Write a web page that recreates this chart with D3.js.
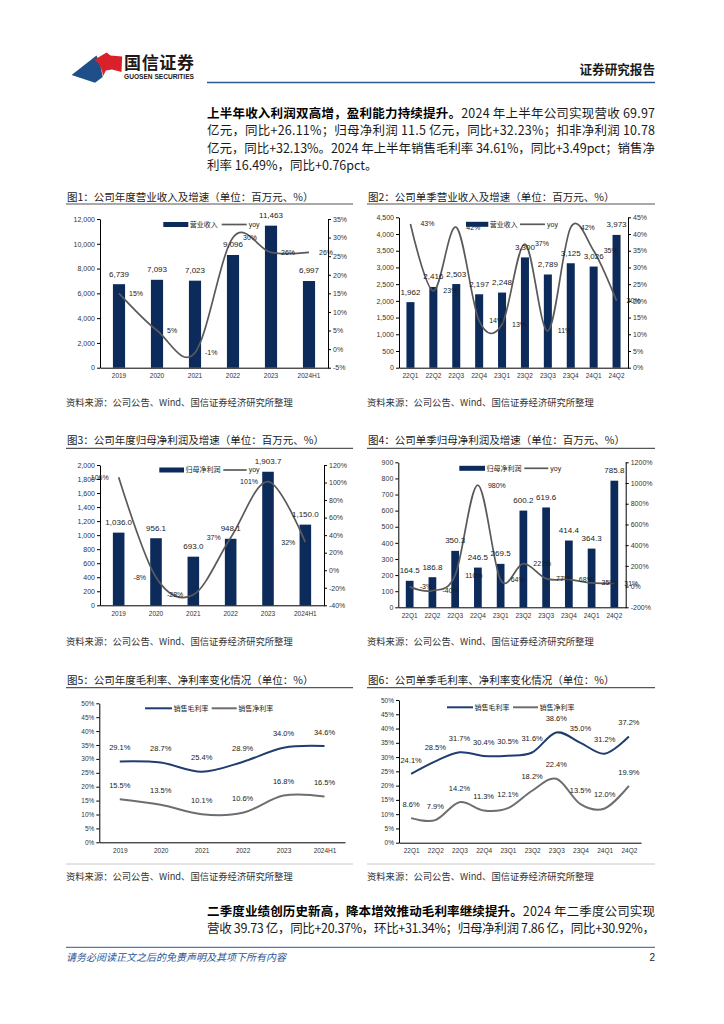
<!DOCTYPE html>
<html>
<head>
<meta charset="utf-8">
<script src="https://cdn.jsdelivr.net/npm/d3@7"></script>
<style>
  html, body { margin: 0; padding: 0; background: #fff; }
  svg { display: block; }
</style>
</head>
<body>
<svg id="page" width="724" height="1024"></svg>
<script>
// ── Data ──────────────────────────────────────────────────
const years    = ['2019', '2020', '2021', '2022', '2023', '2024H1'];
const quarters = ['22Q1', '22Q2', '22Q3', '22Q4', '23Q1', '23Q2', '23Q3', '23Q4', '24Q1', '24Q2'];

const yearRevenue    = [6739, 7093, 7023, 9096, 11463, 6997];
const yearRevenueYoy = [15, 5, -1, 30, 26, 26];

const qRevenue    = [1962, 2416, 2503, 2197, 2248, 3300, 2789, 3125, 3026, 3973];
const qRevenueYoy = [43, 23, 42, 14, 13, 37, 11, 42, 35, 20];

const yearProfit    = [1036.0, 956.1, 693.0, 948.1, 1903.7, 1150.0];
const yearProfitYoy = [106, -8, -28, 37, 101, 32];

const qProfit    = [164.5, 186.8, 350.3, 246.5, 269.5, 600.2, 619.6, 414.4, 364.3, 785.8];
const qProfitYoy = [-3, -40, 110, 980, 64, 221, 77, 68, 35, 31];

const yearGross = [29.1, 28.7, 25.4, 28.9, 34.0, 34.6];
const yearNet   = [15.5, 13.5, 10.1, 10.6, 16.8, 16.5];
const qGross    = [24.1, 28.5, 31.7, 30.4, 30.5, 31.6, 38.6, 35.0, 31.2, 37.2];
const qNet      = [8.6, 7.9, 14.2, 11.3, 12.1, 18.2, 22.4, 13.5, 12.0, 19.9];

const SOURCE = '资料来源：公司公告、Wind、国信证券经济研究所整理';

// ── Style ─────────────────────────────────────────────────
const COLORS = {
  bar:   '#0c2b5b',
  line:  '#5a5a5a',
  gross: '#1f3d6e',
  net:   '#6e6e6e',
  text:  '#1a1a1a',
  blue:  '#2d5a8e'
};
const FONT_NUM = '"Liberation Sans","Noto Sans CJK SC",sans-serif';
const FONT_CJK = '"Noto Sans CJK SC",sans-serif';

const svg = d3.select('#page');
svg.append('rect').attr('width', 724).attr('height', 1024).attr('fill', '#fff');

function styleAxis(sel, fs) {
  sel.select('.domain').attr('stroke', '#000').attr('stroke-width', 1);
  sel.selectAll('.tick line').attr('stroke', '#000');
  sel.selectAll('.tick text')
     .attr('font-size', fs).attr('fill', '#333').attr('font-family', FONT_NUM);
}

// ── Header ────────────────────────────────────────────────
const head = svg.append('g');
head.append('path')
    .attr('d', 'M71.6,75 L96.5,55.5 Q100.5,63 102.7,77 L95,82.7 Z')
    .attr('fill', '#1e4f88');
head.append('path')
    .attr('d', 'M94,60 L106.6,52.5 L110.5,55.5 L122.2,56.5 L121.5,72 L112,69.5 L106,70.5 L103,76 Q101.5,64 94,60 Z')
    .attr('fill', '#d8212a');
head.append('text').attr('x', 124).attr('y', 69)
    .attr('font-family', FONT_CJK).attr('font-size', 17).attr('font-weight', 700)
    .attr('fill', '#231815').attr('textLength', 70).text('国信证券');
head.append('text').attr('x', 124).attr('y', 79.3)
    .attr('font-family', FONT_NUM).attr('font-size', 6.3).attr('font-weight', 700)
    .attr('fill', '#231815').attr('textLength', 70).attr('lengthAdjust', 'spacingAndGlyphs')
    .text('GUOSEN SECURITIES');
head.append('text').attr('x', 655).attr('y', 74).attr('text-anchor', 'end')
    .attr('font-family', FONT_CJK).attr('font-size', 12.6).attr('font-weight', 700)
    .attr('fill', '#1a1a1a').text('证券研究报告');
head.append('line').attr('x1', 207).attr('x2', 655).attr('y1', 82.5).attr('y2', 82.5)
    .attr('stroke', COLORS.blue).attr('stroke-width', 1.6);

// ── Paragraphs ────────────────────────────────────────────
function para(lines, x, y0, lh, width) {
  lines.forEach((ln, i) => {
    const t = svg.append('text').attr('x', x).attr('y', y0 + i * lh)
        .attr('font-family', FONT_CJK).attr('font-size', 12.5).attr('fill', '#1a1a1a');
    if (ln.justify) t.attr('textLength', width).attr('lengthAdjust', 'spacing');
    ln.parts.forEach(p => t.append('tspan')
        .attr('font-weight', p.b ? 700 : 400).attr('fill', p.b ? '#000' : '#1a1a1a').text(p.t));
  });
}

para([
  { justify: true, parts: [{ b: true, t: '上半年收入利润双高增，盈利能力持续提升。' }, { t: '2024 年上半年公司实现营收 69.97' }] },
  { justify: true, parts: [{ t: '亿元，同比+26.11%；归母净利润 11.5 亿元，同比+32.23%；扣非净利润 10.78' }] },
  { justify: true, parts: [{ t: '亿元，同比+32.13%。2024 年上半年销售毛利率 34.61%，同比+3.49pct；销售净' }] },
  { justify: false, parts: [{ t: '利率 16.49%，同比+0.76pct。' }] }
], 207, 117.5, 17.5, 448);

para([
  { justify: true, parts: [{ b: true, t: '二季度业绩创历史新高，降本增效推动毛利率继续提升。' }, { t: '2024 年二季度公司实现' }] },
  { justify: true, parts: [{ t: '营收 39.73 亿，同比+20.37%，环比+31.34%；归母净利润 7.86 亿，同比+30.92%，' }] }
], 207, 916, 16.8, 448);

// ── Titles / sources ──────────────────────────────────────
function panelTitle(text, x0, x1, y, lineY) {
  svg.append('text').attr('x', x0 + 1).attr('y', y)
     .attr('font-family', FONT_CJK).attr('font-size', 10.5).attr('fill', '#1a1a1a').text(text);
  svg.append('line').attr('x1', x0).attr('x2', x1).attr('y1', lineY).attr('y2', lineY)
     .attr('stroke', '#555').attr('stroke-width', 1.2);
}
function source(x, y) {
  svg.append('text').attr('x', x).attr('y', y)
     .attr('font-family', FONT_CJK).attr('font-size', 9.3).attr('fill', '#333').text(SOURCE);
}

panelTitle('图1：公司年度营业收入及增速（单位：百万元、%）', 66, 353, 200.5, 204);
panelTitle('图2：公司单季营业收入及增速（单位：百万元、%）', 367, 655, 200.5, 204);
panelTitle('图3：公司年度归母净利润及增速（单位：百万元、%）', 66, 353, 444, 448.3);
panelTitle('图4：公司单季归母净利润及增速（单位：百万元、%）', 367, 655, 444, 448.3);
panelTitle('图5：公司年度毛利率、净利率变化情况（单位：%）', 66, 353, 684, 687.7);
panelTitle('图6：公司单季毛利率、净利率变化情况（单位：%）', 367, 655, 684, 687.7);

source(66, 405.5);  source(367, 405.5);
source(66, 644.5);  source(367, 644.5);
source(66, 880);    source(367, 880);

[[66, 353], [367, 655]].forEach(([a, b]) =>
  svg.append('line').attr('x1', a).attr('x2', b).attr('y1', 864).attr('y2', 864)
     .attr('stroke', '#c8c8c8').attr('stroke-width', 1));

// ── Bar + yoy line chart ──────────────────────────────────
function combo(o) {
  const g = svg.append('g');
  const x  = d3.scaleBand().domain(o.cats).range([o.l, o.r]).paddingInner(o.pad).paddingOuter(o.pad / 2);
  const cx = c => x(c) + x.bandwidth() / 2;
  const yL = d3.scaleLinear().domain([0, o.lMax]).range([o.b, o.t]);
  const yR = d3.scaleLinear().domain(o.rDom).range([o.b, o.t]);

  g.selectAll('.bar').data(o.bars).join('rect').attr('class', 'bar')
   .attr('x', (d, i) => x(o.cats[i])).attr('width', x.bandwidth())
   .attr('y', d => yL(d)).attr('height', d => o.b - yL(d))
   .attr('fill', COLORS.bar);

  g.append('g').attr('transform', `translate(${o.l},0)`)
   .call(d3.axisLeft(yL).tickValues(d3.range(0, o.lMax + 0.1, o.lStep))
          .tickSize(3).tickSizeOuter(0).tickPadding(2).tickFormat(d3.format(',')))
   .call(styleAxis, 7);
  g.append('g').attr('transform', `translate(${o.r},0)`)
   .call(d3.axisRight(yR).tickValues(d3.range(o.rDom[0], o.rDom[1] + 0.1, o.rStep))
          .tickSize(3).tickSizeOuter(0).tickPadding(2).tickFormat(d => d + '%'))
   .call(styleAxis, 7);
  g.append('g').attr('transform', `translate(0,${o.b})`)
   .call(d3.axisBottom(x).tickSize(0).tickSizeOuter(0).tickPadding(6))
   .call(styleAxis, 6.5);

  const line = d3.line().x((d, i) => cx(o.cats[i])).y(d => yR(d)).curve(d3.curveCardinal);
  g.append('path').datum(o.yoy).attr('d', line)
   .attr('fill', 'none').attr('stroke', COLORS.line).attr('stroke-width', 1.7);

  g.selectAll('.blab').data(o.bars).join('text').attr('class', 'blab')
   .attr('x', (d, i) => cx(o.cats[i])).attr('y', d => yL(d) - 7.5)
   .attr('text-anchor', 'middle').attr('font-family', FONT_NUM)
   .attr('font-size', 8).attr('fill', COLORS.text).text(o.barFmt);

  g.selectAll('.ylab').data(o.yoy).join('text').attr('class', 'ylab')
   .attr('x', (d, i) => cx(o.cats[i]) + o.side * 10).attr('y', d => yR(d)).attr('dy', '0.35em')
   .attr('text-anchor', o.side > 0 ? 'start' : 'end').attr('font-family', FONT_NUM)
   .attr('font-size', 7).attr('fill', COLORS.text).text(d => d + '%');

  // Legend
  const lg = g.append('g').attr('font-size', 7).attr('fill', COLORS.text);
  lg.append('rect').attr('x', o.leg[0]).attr('y', o.legY - 2.5)
    .attr('width', o.leg[1] - o.leg[0]).attr('height', 5).attr('fill', COLORS.bar);
  lg.append('text').attr('x', o.leg[1] + 1.5).attr('y', o.legY).attr('dy', '0.35em')
    .attr('font-family', FONT_CJK).text(o.barName);
  lg.append('line').attr('x1', o.leg[2]).attr('x2', o.leg[3]).attr('y1', o.legY).attr('y2', o.legY)
    .attr('stroke', COLORS.line).attr('stroke-width', 1.7);
  lg.append('text').attr('x', o.leg[3] + 2).attr('y', o.legY).attr('dy', '0.35em')
    .attr('font-family', FONT_NUM).text('yoy');
}

combo({ cats: years, bars: yearRevenue, yoy: yearRevenueYoy, barName: '营业收入',
        l: 100, r: 328, t: 219, b: 367.7, pad: 0.68,
        lMax: 12000, lStep: 2000, rDom: [-5, 35], rStep: 5, side: 1,
        barFmt: d3.format(','), legY: 224.5, leg: [163.3, 188.3, 221.7, 246.7] });

combo({ cats: quarters, bars: qRevenue, yoy: qRevenueYoy, barName: '营业收入',
        l: 399, r: 628, t: 217.3, b: 367.7, pad: 0.65,
        lMax: 4500, lStep: 500, rDom: [0, 45], rStep: 5, side: 1,
        barFmt: d3.format(','), legY: 224.3, leg: [466, 488.3, 520, 545] });

combo({ cats: years, bars: yearProfit, yoy: yearProfitYoy, barName: '归母净利润',
        l: 100, r: 324, t: 465, b: 605.3, pad: 0.69,
        lMax: 2000, lStep: 200, rDom: [-40, 120], rStep: 20, side: -1,
        barFmt: d3.format(',.1f'), legY: 470, leg: [159.3, 184, 223.3, 246.7] });

combo({ cats: quarters, bars: qProfit, yoy: qProfitYoy, barName: '归母净利润',
        l: 398.3, r: 625.7, t: 462.3, b: 607.3, pad: 0.66,
        lMax: 900, lStep: 100, rDom: [-200, 1200], rStep: 200, side: 1,
        barFmt: d3.format(',.1f'), legY: 468.3, leg: [459.3, 485, 524.3, 548.3] });

// ── Margin line chart ─────────────────────────────────────
function margins(o) {
  const g = svg.append('g');
  const x = d3.scalePoint().domain(o.cats).range([o.l, o.r]).padding(0.5);
  const y = d3.scaleLinear().domain([0, 50]).range([o.b, o.t]);

  g.append('g').attr('transform', `translate(${o.l},0)`)
   .call(d3.axisLeft(y).tickValues(d3.range(0, 50.1, 5))
          .tickSize(3).tickSizeOuter(0).tickPadding(2).tickFormat(d => d + '%'))
   .call(styleAxis, 6.5);
  g.append('g').attr('transform', `translate(0,${o.b})`)
   .call(d3.axisBottom(x).tickSize(0).tickSizeOuter(0).tickPadding(6))
   .call(styleAxis, 6.5);

  const line = d3.line().x((d, i) => x(o.cats[i])).y(d => y(d)).curve(d3.curveCardinal);
  const fmt = d3.format('.1f');

  o.series.forEach((s, k) => {
    g.append('path').datum(s.vals).attr('d', line)
     .attr('fill', 'none').attr('stroke', s.color).attr('stroke-width', 2);
    g.selectAll('.lab' + k).data(s.vals).join('text').attr('class', 'lab' + k)
     .attr('x', (d, i) => x(o.cats[i])).attr('y', d => y(d) - 11.4)
     .attr('text-anchor', 'middle').attr('font-family', FONT_NUM)
     .attr('font-size', 7.5).attr('fill', COLORS.text).text(d => fmt(d) + '%');

    const lx = o.leg[k];
    g.append('line').attr('x1', lx[0]).attr('x2', lx[1]).attr('y1', o.legY).attr('y2', o.legY)
     .attr('stroke', s.color).attr('stroke-width', 2);
    g.append('text').attr('x', lx[1] + 1.5).attr('y', o.legY).attr('dy', '0.35em')
     .attr('font-family', FONT_CJK).attr('font-size', 7).attr('fill', COLORS.text).text(s.name);
  });
}

margins({ cats: years, l: 99.3, r: 345, t: 703.3, b: 842.3,
          series: [{ name: '销售毛利率', vals: yearGross, color: COLORS.gross },
                   { name: '销售净利率', vals: yearNet,   color: COLORS.net }],
          legY: 708.3, leg: [[145, 172], [211.7, 236.7]] });

margins({ cats: quarters, l: 399, r: 641, t: 700, b: 842.7,
          series: [{ name: '销售毛利率', vals: qGross, color: COLORS.gross },
                   { name: '销售净利率', vals: qNet,   color: COLORS.net }],
          legY: 707.3, leg: [[447, 473], [513, 538]] });

// ── Footer ────────────────────────────────────────────────
svg.append('line').attr('x1', 66).attr('x2', 655).attr('y1', 947.3).attr('y2', 947.3)
   .attr('stroke', COLORS.blue).attr('stroke-width', 1);
svg.append('text').attr('x', 66).attr('y', 961)
   .attr('font-family', FONT_CJK).attr('font-size', 10).attr('font-style', 'italic')
   .attr('fill', '#2b5797').text('请务必阅读正文之后的免责声明及其项下所有内容');
svg.append('text').attr('x', 655).attr('y', 961).attr('text-anchor', 'end')
   .attr('font-family', FONT_NUM).attr('font-size', 10).attr('fill', '#1a1a1a').text('2');
</script>
</body>
</html>
